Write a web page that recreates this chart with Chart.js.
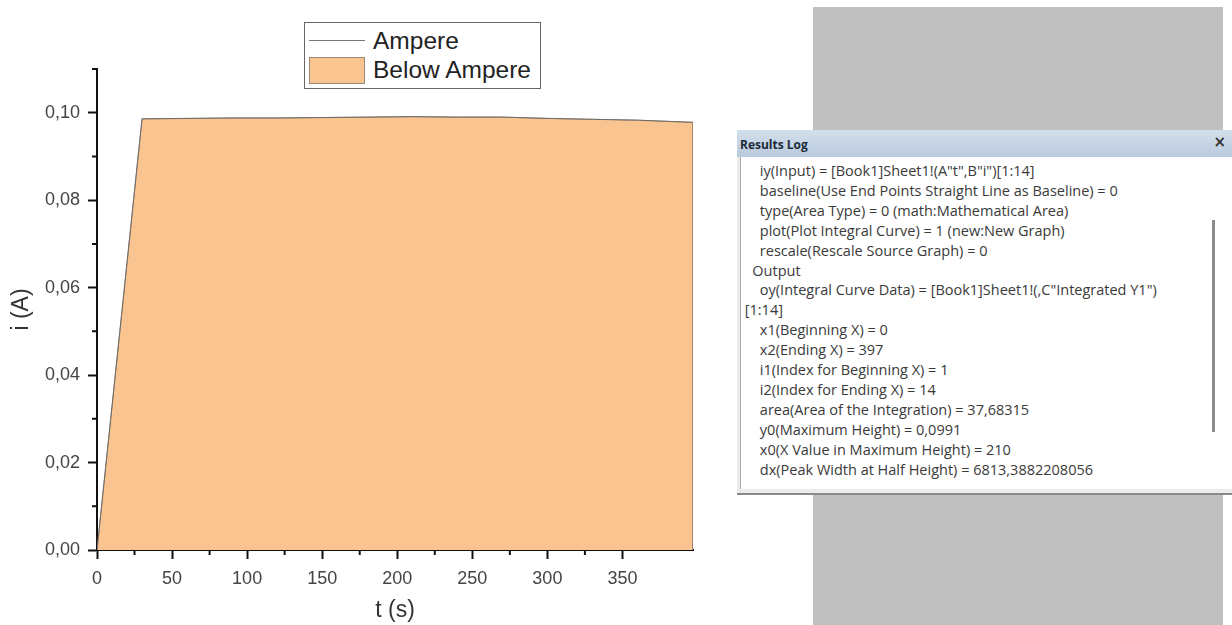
<!DOCTYPE html>
<html>
<head>
<meta charset="utf-8">
<script src="https://cdn.jsdelivr.net/npm/chart.js@4"></script>
<style>
    body { margin: 0; width: 1232px; height: 625px; background: #fff; position: relative; overflow: hidden; font-family: "Liberation Sans", Arial, sans-serif; }
    #plot { position: absolute; left: 0; top: 0; width: 730px; height: 625px; }
    #legend { position: absolute; left: 304px; top: 22px; width: 235px; height: 65px; border: 1px solid #666; background: #fff; font-size: 24.5px; color: #222; }
    #legend .row { position: absolute; left: 0; height: 28px; line-height: 28px; }
    #legend .swatch { position: absolute; left: 4px; }
    #legend .txt { position: absolute; left: 68px; white-space: nowrap; }
    #desk { position: absolute; left: 813px; top: 7px; width: 410px; height: 618px; background: #c0c0c0; }
    #log { position: absolute; left: 737px; top: 130px; width: 495px; height: 363px; background: #ececec; border-bottom: 2px solid #8a8a8a; }
    #log .bar { position: absolute; left: 0; top: 0; right: 0; height: 27px; background: linear-gradient(#d3dfec, #b9cadd); }
    #log .bar b { position: absolute; left: 3px; top: 6px; font: bold 12px "Open Sans", sans-serif; color: #1d2a3a; }
    #log .bar span { position: absolute; right: 6px; top: 3px; font: bold 15px "DejaVu Sans", sans-serif; color: #333; }
    #log .body { position: absolute; left: 3px; top: 27px; right: 0; bottom: 4px; background: #fff; border-left: 1px solid #aaa; }
    #log .lines { position: absolute; left: 0; top: 4px; font: 14.5px "Open Sans", sans-serif; color: #3a3a3a; line-height: 19.9px; white-space: pre; }
    #log .thumb { position: absolute; left: 471px; top: 63px; width: 3px; height: 212px; background: #8c8c8c; }
</style>
</head>
<body>
<div id="desk"></div>
<div id="plot"><canvas id="chart"></canvas></div>
<div id="legend"></div>
<div id="log">
    <div class="bar"><b>Results Log</b><span>×</span></div>
    <div class="body"><div class="lines" id="logLines"></div><div class="thumb"></div></div>
</div>
<script>
// 数据：时间 (s) 与电流 (A)
const timeS = [0, 30, 60, 90, 120, 150, 180, 210, 240, 270, 300, 330, 360, 397];
const currentA = [0, 0.0986, 0.0987, 0.0988, 0.0988, 0.0989, 0.0990, 0.0991, 0.0990, 0.0990, 0.0987, 0.0985, 0.0983, 0.0978];
const seriesNames = ['Ampere', 'Below Ampere'];

const yMax = 0.11;
const xMax = 397;

// Results Log 文本
const logLines = [
    '     iy(Input) = [Book1]Sheet1!(A"t",B"i")[1:14]',
    '     baseline(Use End Points Straight Line as Baseline) = 0',
    '     type(Area Type) = 0 (math:Mathematical Area)',
    '     plot(Plot Integral Curve) = 1 (new:New Graph)',
    '     rescale(Rescale Source Graph) = 0',
    '   Output',
    '     oy(Integral Curve Data) = [Book1]Sheet1!(,C"Integrated Y1")',
    ' [1:14]',
    '     x1(Beginning X) = 0',
    '     x2(Ending X) = 397',
    '     i1(Index for Beginning X) = 1',
    '     i2(Index for Ending X) = 14',
    '     area(Area of the Integration) = 37,68315',
    '     y0(Maximum Height) = 0,0991',
    '     x0(X Value in Maximum Height) = 210',
    '     dx(Peak Width at Half Height) = 6813,3882208056',
];
document.getElementById('logLines').textContent = logLines.join('\n');

const lineColor = '#6f6a66';
const fillColor = '#f9c490';

const points = timeS.map((t, i) => ({ x: t, y: currentA[i] }));
// 面积多边形：曲线加上回到基线的最后一点
const areaPoints = points.concat([{ x: timeS[timeS.length - 1], y: 0 }]);

/**
 * HTML 图例
 */
function buildLegend() {
    const el = document.getElementById('legend');
    el.innerHTML =
        `<div class="row" style="top:4px"><div class="swatch" style="top:13px;width:56px;height:0;border-top:1px solid #777"></div><div class="txt">${seriesNames[0]}</div></div>` +
        `<div class="row" style="top:33px"><div class="swatch" style="top:1px;width:54px;height:25px;background:${fillColor};border:1px solid #9a8a7a"></div><div class="txt">${seriesNames[1]}</div></div>`;
}
buildLegend();

// 次刻度（短刻度线）
const minorTicks = {
    id: 'minorTicks',
    afterDraw(chart) {
        const ctx = chart.ctx;
        const xs = chart.scales.x, ys = chart.scales.y;
        ctx.save();
        ctx.strokeStyle = '#111';
        ctx.lineWidth = 2;
        ctx.beginPath();
        xs.ticks.forEach(t => {
            if (Math.round(t.value) % 50 !== 0) {
                const px = xs.getPixelForValue(t.value);
                ctx.moveTo(px, ys.bottom);
                ctx.lineTo(px, ys.bottom + 5);
            }
        });
        ys.ticks.forEach(t => {
            if (Math.round(t.value * 100) % 2 !== 0) {
                const py = ys.getPixelForValue(t.value);
                ctx.moveTo(xs.left, py);
                ctx.lineTo(xs.left - 5, py);
            }
        });
        ctx.stroke();
        ctx.restore();
    }
};

const tickFont = { family: '"Liberation Sans", Arial, sans-serif', size: 18 };
const titleFont = { family: '"Liberation Sans", Arial, sans-serif', size: 23 };

new Chart(document.getElementById('chart'), {
    type: 'line',
    data: {
        datasets: [
            { label: seriesNames[0], data: points, borderColor: lineColor, borderWidth: 1, pointRadius: 0, fill: false, tension: 0 },
            { label: seriesNames[1], data: areaPoints, borderColor: 'rgba(130,115,100,0.7)', borderWidth: 1, backgroundColor: fillColor, pointRadius: 0, fill: 'origin', tension: 0 },
        ],
    },
    options: {
        responsive: true,
        maintainAspectRatio: false,
        animation: false,
        layout: { padding: { top: 69, right: 37, left: 0, bottom: 0 } },
        plugins: { legend: { display: false }, tooltip: { enabled: false } },
        scales: {
            x: {
                type: 'linear',
                min: 0,
                max: xMax,
                afterBuildTicks: scale => { scale.ticks = scale.ticks.filter(t => t.value % 25 === 0); },
                afterFit: scale => { scale.height = 75; },
                ticks: {
                    stepSize: 25,
                    autoSkip: false,
                    maxRotation: 0,
                    padding: 9,
                    color: '#444',
                    font: tickFont,
                    callback: v => (Math.round(v) % 50 === 0 ? String(v) : ''),
                },
                grid: {
                    drawOnChartArea: false,
                    tickLength: 9,
                    tickWidth: 2,
                    tickColor: c => (c.tick && Math.round(c.tick.value) % 50 === 0 ? '#111' : 'rgba(0,0,0,0)'),
                },
                border: { color: '#111', width: 2 },
                title: { display: true, text: 't (s)', color: '#333', font: titleFont, padding: { top: 0, bottom: 1 } },
            },
            y: {
                min: 0,
                max: yMax,
                afterFit: scale => { scale.width = 97; },
                ticks: {
                    stepSize: 0.01,
                    padding: 8,
                    color: '#444',
                    font: tickFont,
                    callback: v => (Math.round(v * 100) % 2 === 0 ? v.toFixed(2).replace('.', ',') : ''),
                },
                grid: {
                    drawOnChartArea: false,
                    tickLength: 9,
                    tickWidth: 2,
                    tickColor: c => (c.tick && Math.round(c.tick.value * 100) % 2 === 0 ? '#111' : 'rgba(0,0,0,0)'),
                },
                border: { color: '#111', width: 2 },
                title: { display: true, text: 'i (A)', color: '#333', font: titleFont, padding: { top: 8, bottom: 0 } },
            },
        },
    },
    plugins: [minorTicks],
});
</script>
</body>
</html>
